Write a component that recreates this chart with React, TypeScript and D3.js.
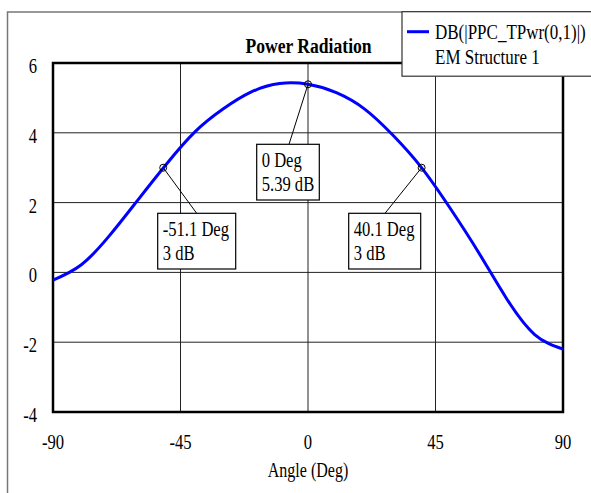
import React from "react";
import * as d3 from "d3";

const angles = [-90, -80, -70, -60, -50, -40, -30, -20, -10, 0, 10, 20, 30, 40, 50, 60, 70, 80, 90];
const gainDb = [-0.22, 0.22, 1.06, 2.08, 3.1, 4.02, 4.68, 5.17, 5.41, 5.39, 5.15, 4.68, 3.93, 3.01, 1.86, 0.6, -0.74, -1.78, -2.2];

const xTicks = [-90, -45, 0, 45, 90];
const yTicks = [-4, -2, 0, 2, 4, 6];

const markerAngles = [-51.1, 0, 40.1];
const markerValues = [3, 5.39, 3];
const markerLine1 = ["-51.1 Deg", "0 Deg", "40.1 Deg"];
const markerLine2 = ["3 dB", "5.39 dB", "3 dB"];
// box layout (pixels): left, top, width, height, leader end
const boxLayout = [
  { x: 157.7, y: 213.3, w: 78, h: 55.7, lx: 196.7, ly: 213.3 },
  { x: 256.7, y: 144.3, w: 62.6, h: 55.7, lx: 289, ly: 144.3 },
  { x: 348.7, y: 213.3, w: 72, h: 55.7, lx: 385, ly: 213.3 },
];

const title = "Power Radiation";
const xLabel = "Angle (Deg)";
const legendLine1 = "DB(|PPC_TPwr(0,1)|)";
const legendLine2 = "EM Structure 1";

const FONT = "Liberation Serif";
const SX = 0.83;

function T({ x, y, children, anchor = "start", size = 20, sx = SX, bold = false }: any) {
  return (
    <text
      transform={`translate(${x},${y}) scale(${sx},1)`}
      textAnchor={anchor}
      style={{ fontFamily: FONT, fontSize: size + "px", fontWeight: bold ? 700 : 400 }}
      fill="#000"
    >
      {children}
    </text>
  );
}

export default function App() {
  const W = 591, H = 493;
  const x = d3.scaleLinear().domain([-90, 90]).range([53, 563]);
  const y = d3.scaleLinear().domain([-4, 6]).range([412, 63]);
  const pts: [number, number][] = angles.map((a, i) => [a, gainDb[i]]);
  const line = d3
    .line<[number, number]>()
    .x((d) => x(d[0]))
    .y((d) => y(d[1]))
    .curve(d3.curveNatural);

  return (
    <svg width={W} height={H} style={{ position: "absolute", left: 0, top: 0, background: "#fff" }}>
      <rect x={0} y={0} width={W} height={H} fill="#fff" />
      {/* outer frame */}
      <rect x={7.5} y={12} width={620} height={520} fill="none" stroke="#777" strokeWidth={1.5} />

      {/* grid */}
      {xTicks.slice(1, -1).map((t) => (
        <line key={"gx" + t} x1={x(t)} x2={x(t)} y1={y(-4)} y2={y(6)} stroke="#222" strokeWidth={1} />
      ))}
      {yTicks.slice(1, -1).map((t) => (
        <line key={"gy" + t} x1={x(-90)} x2={x(90)} y1={y(t)} y2={y(t)} stroke="#222" strokeWidth={1} />
      ))}
      {/* plot border */}
      <rect x={x(-90)} y={y(6)} width={x(90) - x(-90)} height={y(-4) - y(6)} fill="none" stroke="#000" strokeWidth={2.5} />

      {/* curve */}
      <path d={line(pts) || ""} fill="none" stroke="#0000ff" strokeWidth={3} />

      {/* annotations */}
      {markerAngles.map((a, i) => {
        const b = boxLayout[i];
        return (
          <g key={"m" + i}>
            <line x1={x(a)} y1={y(markerValues[i])} x2={b.lx} y2={b.ly} stroke="#000" strokeWidth={1} />
            <circle cx={x(a)} cy={y(markerValues[i])} r={3.5} fill="none" stroke="#000" strokeWidth={1} />
            <rect x={b.x} y={b.y} width={b.w} height={b.h} fill="#fff" stroke="#000" strokeWidth={1.2} />
            <T x={b.x + 5} y={b.y + 22.5}>{markerLine1[i]}</T>
            <T x={b.x + 5} y={b.y + 46.5}>{markerLine2[i]}</T>
          </g>
        );
      })}

      {/* title */}
      <T x={308.5} y={52.5} anchor="middle" size={20} sx={0.88} bold>{title}</T>

      {/* y tick labels */}
      {yTicks.map((t) => (
        <T key={"yl" + t} x={37} y={y(t) + 10} anchor="end">{String(t)}</T>
      ))}
      {/* x tick labels */}
      {xTicks.map((t) => (
        <T key={"xl" + t} x={x(t)} y={449} anchor="middle">{String(t)}</T>
      ))}
      <T x={308} y={476.5} anchor="middle" sx={0.8}>{xLabel}</T>

      {/* legend */}
      <rect x={402} y={11.7} width={220} height={64.5} fill="#fff" stroke="#333" strokeWidth={1.2} />
      <line x1={407} x2={429} y1={31.7} y2={31.7} stroke="#0000ff" strokeWidth={3} />
      <T x={435} y={38.5} sx={0.85}>{legendLine1}</T>
      <T x={435} y={64} sx={0.85}>{legendLine2}</T>
    </svg>
  );
}
